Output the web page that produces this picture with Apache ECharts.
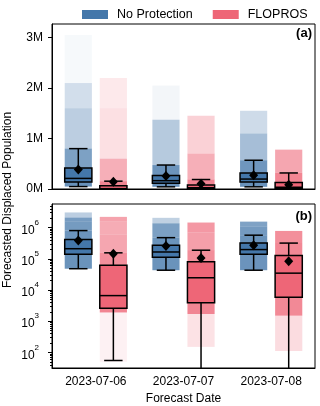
<!DOCTYPE html>
<html>
<head>
<meta charset="utf-8">
<script src="https://cdn.jsdelivr.net/npm/echarts@6/dist/echarts.min.js"></script>
<style>
html, body { margin: 0; padding: 0; background: #fff; }
#main { width: 320px; height: 406px; }
</style>
</head>
<body>
<div id="main"></div>
<script>
var dates = ['2023-07-06', '2023-07-07', '2023-07-08'];

// box stats per date: [min, q1, median, q3, max]
var noProtBox = [
    [48e3, 140e3, 210e3, 415e3, 800e3],
    [43e3, 112e3, 165e3, 270e3, 475e3],
    [43e3, 140e3, 197e3, 318e3, 570e3]
];
var floprosBox = [
    [55, 2.6e3, 6.6e3, 62e3, 155e3],
    [1, 3.9e3, 24.6e3, 81e3, 188e3],
    [1, 5.9e3, 34.6e3, 127e3, 318e3]
];
var noProtMean = [385e3, 258e3, 272e3];
var floprosMean = [145e3, 106e3, 84e3];

// scatter clouds, read as bands: [low, high, share of points]
var noProtCloud = [
    [[48e3, 140e3, 0.25], [140e3, 210e3, 0.25], [210e3, 415e3, 0.25], [415e3, 800e3, 0.13], [800e3, 1.6e6, 0.08], [1.6e6, 2.1e6, 0.03], [2.1e6, 3.05e6, 0.01]],
    [[43e3, 112e3, 0.25], [112e3, 165e3, 0.25], [165e3, 270e3, 0.25], [270e3, 475e3, 0.14], [475e3, 1.37e6, 0.1], [1.37e6, 2.05e6, 0.01]],
    [[43e3, 140e3, 0.25], [140e3, 197e3, 0.25], [197e3, 318e3, 0.25], [318e3, 570e3, 0.14], [570e3, 1.1e6, 0.08], [1.1e6, 1.55e6, 0.03]]
];
var floprosCloud = [
    [[50, 1.9e3, 0.02], [1.9e3, 2.6e3, 0.23], [2.6e3, 6.6e3, 0.25], [6.6e3, 62e3, 0.25], [62e3, 155e3, 0.1], [155e3, 600e3, 0.08], [600e3, 1.6e6, 0.05], [1.6e6, 2.2e6, 0.02]],
    [[150, 1.7e3, 0.03], [1.7e3, 3.9e3, 0.22], [3.9e3, 24.6e3, 0.25], [24.6e3, 81e3, 0.25], [81e3, 190e3, 0.1], [190e3, 700e3, 0.09], [700e3, 1.45e6, 0.06]],
    [[110, 1.5e3, 0.04], [1.5e3, 5.9e3, 0.21], [5.9e3, 34.6e3, 0.25], [34.6e3, 127e3, 0.25], [127e3, 320e3, 0.15], [320e3, 780e3, 0.1]]
];

var linTicks = [0, 1e6, 2e6, 3e6];
var logTicks = [1e2, 1e3, 1e4, 1e5, 1e6];

var BLUE = '#4477AA', PINK = '#EE6677';
var FONT = 'Liberation Sans, Arial, sans-serif';
var LOG_MIN = 31.6, LOG_MAX = 5.69e6;

// minor ticks on log axis (2..9 per decade)
var logMinor = [];
for (var d = 10; d <= 1e6; d *= 10) {
    for (var k = 2; k <= 9; k++) {
        var v = d * k;
        if (v > LOG_MIN && v < LOG_MAX) logMinor.push(v);
    }
}

function cloudData(clouds) {
    var out = [];
    clouds.forEach(function(bands, i) {
        bands.forEach(function(b) { out.push([i, b[0], b[1], b[2]]); });
    });
    return out;
}

function boxData(box, mean) {
    return box.map(function(b, i) { return [i].concat(b).concat([mean[i]]); });
}

// density of the jittered points -> opacity of the band
function cloudItem(off, color) {
    return function(params, api) {
        var cat = api.value(0);
        var p1 = api.coord([cat, api.value(1)]);
        var p2 = api.coord([cat, api.value(2)]);
        var band = api.size([1, 0], [cat, 1e3])[0];
        var w = band * 0.31;
        var cx = p1[0] + off * band;
        var top = Math.min(p1[1], p2[1]);
        var h = Math.max(Math.abs(p1[1] - p2[1]), 0.5);
        var a = 0.8 * (1 - Math.exp(-300 * api.value(3) / h));
        return {
            type: 'rect',
            shape: { x: cx - w / 2, y: top, width: w, height: h },
            style: { fill: color, opacity: a }
        };
    };
}

function boxItem(off, color) {
    return function(params, api) {
        var cat = api.value(0);
        var band = api.size([1, 0], [cat, 1e3])[0];
        var w = band * 0.31, cw = band * 0.21;
        var cx = api.coord([cat, api.value(3)])[0] + off * band;
        var y = [1, 2, 3, 4, 5, 6].map(function(i) { return api.coord([cat, api.value(i)])[1]; });
        var ls = { stroke: '#000', lineWidth: 1.5 };
        return {
            type: 'group',
            children: [
                { type: 'line', shape: { x1: cx, y1: y[0], x2: cx, y2: y[1] }, style: ls },
                { type: 'line', shape: { x1: cx, y1: y[3], x2: cx, y2: y[4] }, style: ls },
                { type: 'line', shape: { x1: cx - cw / 2, y1: y[0], x2: cx + cw / 2, y2: y[0] }, style: ls },
                { type: 'line', shape: { x1: cx - cw / 2, y1: y[4], x2: cx + cw / 2, y2: y[4] }, style: ls },
                { type: 'rect', shape: { x: cx - w / 2, y: y[3], width: w, height: y[1] - y[3] },
                  style: { fill: color, stroke: '#000', lineWidth: 1.5 } },
                { type: 'line', shape: { x1: cx - w / 2, y1: y[2], x2: cx + w / 2, y2: y[2] }, style: ls },
                { type: 'polygon', shape: { points: [[cx, y[5] - 5], [cx + 4.5, y[5]], [cx, y[5] + 5], [cx - 4.5, y[5]]] },
                  style: { fill: '#000' } }
            ]
        };
    };
}

function xAxis(idx, labels) {
    return {
        type: 'category', gridIndex: idx, data: dates, boundaryGap: true,
        axisLine: { lineStyle: { color: '#000', width: 1 } },
        axisTick: { alignWithLabel: true, length: 4, lineStyle: { color: '#000' } },
        axisLabel: { show: labels, color: '#000', fontSize: 12, fontFamily: FONT, margin: 8 },
        splitLine: { show: false },
        name: labels ? 'Forecast Date' : '',
        nameLocation: 'middle', nameGap: 25,
        nameTextStyle: { color: '#000', fontSize: 12, fontFamily: FONT }
    };
}

function mkSeries(name, type, xi, yi, data, fn) {
    return {
        name: name, type: 'custom', xAxisIndex: xi, yAxisIndex: yi,
        data: data, renderItem: fn, clip: true, silent: true,
        itemStyle: { color: name === 'No Protection' ? BLUE : PINK },
        z: type === 'box' ? 5 : 2
    };
}

var myChart = echarts.init(document.getElementById('main'));

var option = {
    animation: false,
    legend: {
        data: ['No Protection', 'FLOPROS'],
        icon: 'rect', itemWidth: 26, itemHeight: 9, itemGap: 20,
        left: 77, top: 3,
        textStyle: { color: '#000', fontSize: 12.5, fontFamily: FONT, padding: [0, 0, 0, 4] }
    },
    grid: [
        { left: 52, top: 24, width: 263, height: 165, show: true, borderColor: '#000', borderWidth: 1 },
        { left: 52, top: 204, width: 263, height: 165, show: true, borderColor: '#000', borderWidth: 1 }
    ],
    xAxis: [xAxis(0, false), xAxis(1, true)],
    yAxis: [
        {
            type: 'value', gridIndex: 0, min: 0, max: 3.27e6, interval: 1e6, position: 'left',
            axisLine: { show: true, lineStyle: { color: '#000' } },
            axisTick: { show: true, length: 4, customValues: linTicks, lineStyle: { color: '#000' } },
            axisLabel: {
                customValues: linTicks, color: '#000', fontSize: 12, fontFamily: FONT, margin: 9,
                formatter: function(v) { return Math.round(v / 1e6) + 'M'; }
            },
            splitLine: { show: false }
        },
        {
            type: 'log', logBase: 10, gridIndex: 1, min: LOG_MIN, max: LOG_MAX, position: 'left',
            axisLine: { show: true, lineStyle: { color: '#000' } },
            axisTick: { show: true, length: 4, customValues: logTicks, lineStyle: { color: '#000' } },
            axisLabel: {
                customValues: logTicks, margin: 13,
                formatter: function(v) {
                    return '{b|10}{s|' + Math.round(Math.log10(v)) + '}';
                },
                rich: {
                    b: { fontSize: 12, fontFamily: FONT, color: '#000', lineHeight: 18, verticalAlign: 'bottom' },
                    s: { fontSize: 8, fontFamily: FONT, color: '#000', lineHeight: 18, verticalAlign: 'top' }
                }
            },
            splitLine: { show: false }
        },
        {
            type: 'log', logBase: 10, gridIndex: 1, min: LOG_MIN, max: LOG_MAX, position: 'left',
            axisLine: { show: false },
            axisTick: { show: true, length: 2, customValues: logMinor, lineStyle: { color: '#000' } },
            axisLabel: { show: false },
            splitLine: { show: false }
        }
    ],
    graphic: [
        {
            type: 'text', x: 8, y: 200, rotation: Math.PI / 2,
            style: { text: 'Forecasted Displaced Population', fontSize: 12, fontFamily: FONT, fill: '#000',
                     textAlign: 'center', textVerticalAlign: 'middle' }
        },
        {
            type: 'text', x: 312, y: 33,
            style: { text: '(a)', fontSize: 13, fontWeight: 'bold', fontFamily: FONT, fill: '#000',
                     textAlign: 'right', textVerticalAlign: 'middle' }
        },
        {
            type: 'text', x: 312, y: 216,
            style: { text: '(b)', fontSize: 13, fontWeight: 'bold', fontFamily: FONT, fill: '#000',
                     textAlign: 'right', textVerticalAlign: 'middle' }
        }
    ],
    series: [
        mkSeries('No Protection', 'cloud', 0, 0, cloudData(noProtCloud), cloudItem(-0.2, BLUE)),
        mkSeries('FLOPROS', 'cloud', 0, 0, cloudData(floprosCloud), cloudItem(0.2, PINK)),
        mkSeries('No Protection', 'cloud', 1, 1, cloudData(noProtCloud), cloudItem(-0.2, BLUE)),
        mkSeries('FLOPROS', 'cloud', 1, 1, cloudData(floprosCloud), cloudItem(0.2, PINK)),
        mkSeries('No Protection', 'box', 0, 0, boxData(noProtBox, noProtMean), boxItem(-0.2, BLUE)),
        mkSeries('FLOPROS', 'box', 0, 0, boxData(floprosBox, floprosMean), boxItem(0.2, PINK)),
        mkSeries('No Protection', 'box', 1, 1, boxData(noProtBox, noProtMean), boxItem(-0.2, BLUE)),
        mkSeries('FLOPROS', 'box', 1, 1, boxData(floprosBox, floprosMean), boxItem(0.2, PINK))
    ]
};
myChart.setOption(option);
</script>
</body>
</html>
